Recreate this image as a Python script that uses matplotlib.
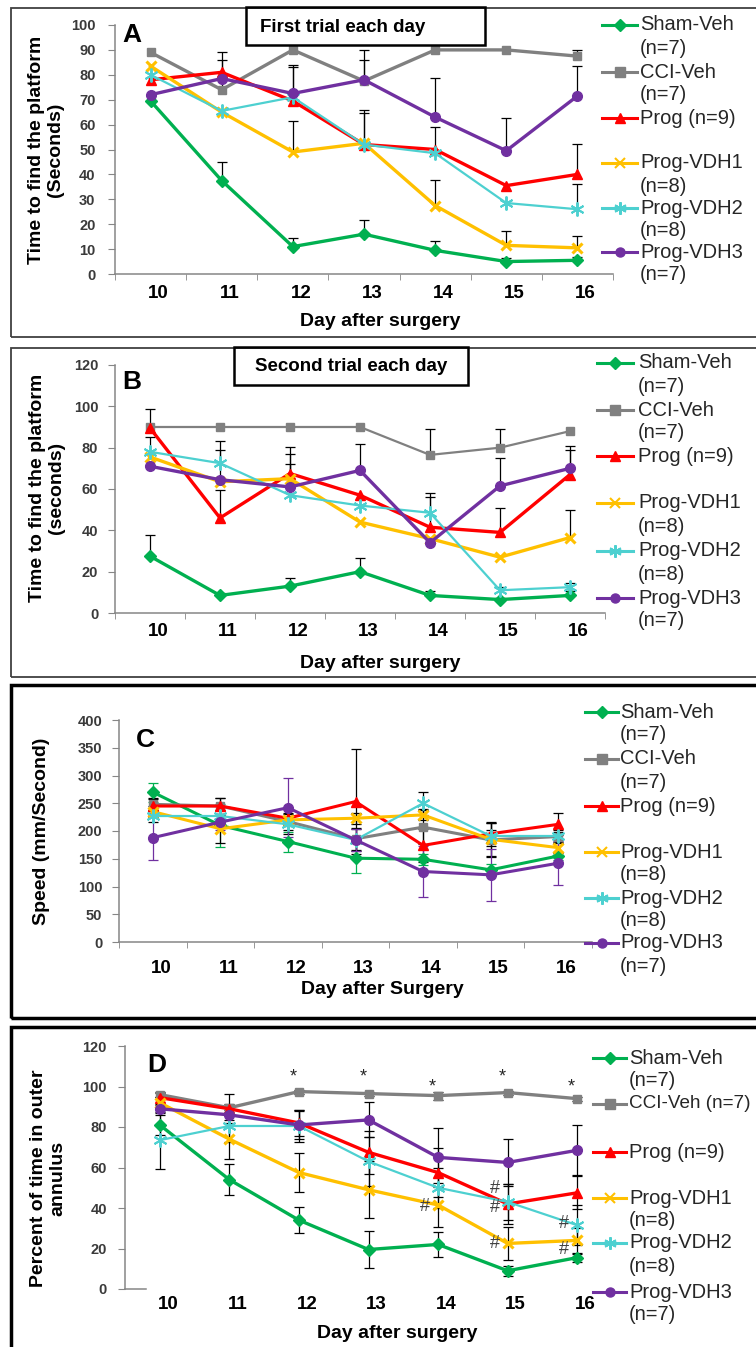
import numpy as np
import matplotlib
matplotlib.use('Agg')
import matplotlib.pyplot as plt
import matplotlib.transforms as mtransforms
from matplotlib.patches import Rectangle
from matplotlib.lines import Line2D

plt.rcParams['font.family'] = ['Liberation Sans', 'DejaVu Sans']

W, H = 756, 1347

days = [10, 11, 12, 13, 14, 15, 16]
groups = ['Sham-Veh', 'CCI-Veh', 'Prog', 'Prog-VDH1', 'Prog-VDH2', 'Prog-VDH3']
colors = ['#00B050', '#808080', '#FF0000', '#FFC000', '#4DD0D0', '#7030A0']
markers = ['D', 's', '^', 'x', (6, 2, 0), 'o']

legend_abc = [['Sham-Veh', '(n=7)'], ['CCI-Veh', '(n=7)'], ['Prog (n=9)'],
              ['Prog-VDH1', '(n=8)'], ['Prog-VDH2', '(n=8)'], ['Prog-VDH3', '(n=7)']]
legend_d = [['Sham-Veh', '(n=7)'], ['CCI-Veh (n=7)'], ['Prog (n=9)'],
            ['Prog-VDH1', '(n=8)'], ['Prog-VDH2', '(n=8)'], ['Prog-VDH3', '(n=7)']]

# rows follow the order of groups
trial1_mean = [[69.5, 37.5, 11, 16, 9.5, 5, 5.5],
               [89, 74, 90, 77.5, 90, 90, 87.5],
               [78, 81, 69.5, 52, 50, 35.5, 40],
               [83.5, 65, 49, 52.5, 27.5, 11.5, 10.5],
               [80, 65.5, 71, 52, 48.5, 28.5, 26],
               [72, 78.5, 72.5, 78, 63, 49.5, 71.5]]
trial1_err = [[0, 7.3, 3.3, 5.5, 3.9, 1.5, 1.5],
              [0, 15, 0, 12.5, 0, 0, 2.5],
              [0, 0, 13.8, 14, 9.2, 0, 12.4],
              [0, 0, 12.3, 0, 10.3, 5.8, 4.6],
              [0, 0, 0, 12.7, 0, 0, 10.3],
              [0, 7.6, 11.6, 7.8, 15.6, 13, 12.2]]

trial2_mean = [[27.5, 8.5, 13, 20, 8.5, 6.5, 8.5],
               [90, 90, 90, 90, 76.5, 80, 88],
               [89.5, 46, 67.5, 57, 41.5, 39, 67],
               [75.5, 63.5, 65, 44, 36, 27, 36.5],
               [78, 72.5, 57, 52, 48.5, 11, 12.5],
               [71, 64.5, 61, 69, 34, 61.5, 70]]
trial2_err = [[10.4, 1, 4, 6.6, 2, 1, 2],
              [0, 0, 0, 0, 12.4, 8.9, 0],
              [9.2, 13.6, 12.8, 0, 14.8, 11.6, 12.1],
              [0, 0, 7.3, 0, 0, 0, 13.3],
              [7, 10.5, 0, 0, 9.4, 1.5, 2],
              [0, 14.5, 16, 13, 0, 13.5, 11]]

speed_mean = [[270, 210, 181, 151, 149, 130, 155],
              [248, 245, 217, 186, 207, 184, 190],
              [245, 245, 223, 253, 174, 195, 212],
              [235, 204, 220, 223, 229, 185, 170],
              [227, 227, 212, 184, 250, 191, 191],
              [188, 216, 242, 184, 127, 121, 142]]
speed_err = [[17, 38, 18, 27, 10, 10, 8],
             [12, 14, 22, 20, 30, 30, 12],
             [12, 15, 10, 94, 30, 22, 20],
             [10, 25, 10, 10, 10, 30, 10],
             [10, 10, 10, 20, 21, 10, 8],
             [41, 15, 53, 20, 46, 47, 40]]

annulus_mean = [[81, 54, 34, 19.5, 22, 9, 15.5],
                [96, 89.5, 97.5, 96.5, 95.5, 97, 94],
                [94.5, 89, 82, 67.5, 57.5, 42, 47.5],
                [92, 74, 57.5, 49, 41.5, 22.5, 24],
                [73.5, 80.5, 80.5, 63, 50, 43, 31.5],
                [89, 86, 81, 83.5, 65, 62.5, 68.5]]
annulus_err = [[5, 7.5, 6.5, 9, 6, 2.5, 2],
               [1, 2, 1, 1, 2, 1, 1],
               [3, 7.5, 6.5, 10.5, 12, 10, 8.2],
               [3, 9.6, 9.6, 14, 11, 8, 6],
               [14, 8, 8, 12, 10, 9, 10],
               [2, 4, 7, 8.6, 14.4, 11.8, 12.3]]

star_days = [12, 13, 14, 15, 16]
star_vals = [104.7, 104.7, 99.8, 104.7, 99.8]
hash_days = [14, 15, 15, 15, 16, 16]
hash_vals = [40.5, 49.7, 40, 22.7, 32.5, 19.4]

fig = plt.figure(figsize=(W / 100, H / 100), dpi=100)


def px_axes(l, t, r, b):
    return fig.add_axes([l / W, 1 - b / H, (r - l) / W, (b - t) / H])


def ftext(x, y, s, **kw):
    return fig.text(x / W, 1 - y / H, s, **kw)


def frame(l, t, r, b, lw, color):
    fig.add_artist(Rectangle((l / W, 1 - b / H), (r - l) / W, (b - t) / H,
                             transform=fig.transFigure, fill=False, lw=lw, ec=color))


def draw_panel(ax, means, errs, ymax, ystep, one_sided, ecolors, lws, xpad, ypad):
    x = np.arange(len(days))
    sizes = [6.5, 6, 7.5, 7.5, 10, 7]
    mews = [1, 1, 1, 2.2, 1.4, 1]
    for i in range(len(groups)):
        m = np.array(means[i], dtype=float)
        e = np.array(errs[i], dtype=float)
        keep = e > 0
        lower = np.zeros_like(e) if one_sided else e
        eb = ax.errorbar(x[keep], m[keep], yerr=[lower[keep], e[keep]], fmt='none',
                         ecolor=ecolors[i], elinewidth=0.9, capsize=3.5, capthick=0.9, zorder=2)
        if one_sided and len(eb[1]) > 1:
            eb[1][0].set_visible(False)
        ax.plot(x, m, color=colors[i], lw=lws[i], marker=markers[i], ms=sizes[i],
                mew=mews[i], mec=colors[i], mfc=colors[i], zorder=3)
    ax.set_xlim(-0.5, 6.5)
    ax.set_ylim(0, ymax)
    ax.set_yticks(np.arange(0, ymax + 1, ystep))
    ax.set_xticks(x)
    ax.set_xticklabels([str(d) for d in days], fontsize=13.5, fontweight='bold')
    ax.set_xticks(np.arange(-0.5, 7, 1), minor=True)
    ax.tick_params(axis='x', which='major', length=0, pad=xpad)
    ax.tick_params(axis='x', which='minor', length=4, color='#868686', direction='out')
    ax.tick_params(axis='y', length=5, color='#868686', pad=ypad, labelsize=10.5,
                   labelcolor='#3a3a3a')
    for lbl in ax.get_yticklabels():
        lbl.set_fontweight('bold')
    shift = mtransforms.ScaledTranslation(0.08, 0, fig.dpi_scale_trans)
    for lbl in ax.get_xticklabels():
        lbl.set_transform(lbl.get_transform() + shift)
    for side in ['top', 'right']:
        ax.spines[side].set_visible(False)
    for side in ['left', 'bottom']:
        ax.spines[side].set_color('#868686')
        ax.spines[side].set_linewidth(1.1)
    ax.patch.set_alpha(0)


def draw_legend(rows_y, x0, x1, xt, labels):
    for i, y in enumerate(rows_y):
        yy = 1 - y / H
        fig.add_artist(Line2D([x0 / W, x1 / W], [yy, yy], color=colors[i], lw=2.2,
                              transform=fig.transFigure))
        fig.add_artist(Line2D([(x0 + x1) / 2 / W], [yy], color=colors[i], lw=0,
                              marker=markers[i], ms=9 if i == 4 else 6.5,
                              mew=1.5 if i in (3, 4) else 1,
                              transform=fig.transFigure))
        for k, line in enumerate(labels[i]):
            size = 14.5 if len(line) < 12 else 13.6
            ftext(xt, y + k * 23, line, fontsize=size, va='center', ha='left', color='#262626')


black6 = ['black'] * 6
thick = [2.4, 2.4, 2.4, 2.4, 1.6, 2.4]

# panel frames
frame(11, 8, 790, 337, 1.3, '#404040')
frame(11, 348, 790, 677, 1.3, '#404040')
frame(11, 685, 790, 1018, 2.5, 'black')
frame(11, 1027, 790, 1370, 2.5, 'black')

# A
axA = px_axes(115, 25, 613, 274)
draw_panel(axA, trial1_mean, trial1_err, 100, 10, True, black6, thick, 8, 9)
frame(246, 7, 485, 45, 1.8, 'black')
ftext(260, 27, 'First trial each day', fontsize=13.5, fontweight='bold', va='center')
ftext(132, 35, 'A', fontsize=19, fontweight='bold', ha='center', va='center')
ftext(46, 150, 'Time to find the platform\n(Seconds)', rotation=90, fontsize=14,
      fontweight='bold', ha='center', va='center', linespacing=1.2)
ftext(380, 322, 'Day after surgery', fontsize=14, fontweight='bold', ha='center', va='center')
draw_legend([25, 72, 118, 163, 208, 252], 602, 637, 640, legend_abc)

# B
axB = px_axes(115, 365, 605, 613)
draw_panel(axB, trial2_mean, trial2_err, 120, 20, True, black6,
           [2.4, 1.6, 2.4, 2.4, 1.6, 2.4], 7, 7)
frame(234, 347, 468, 385, 1.8, 'black')
ftext(351, 366, 'Second trial each day', fontsize=13.5, fontweight='bold',
      ha='center', va='center')
ftext(132, 382, 'B', fontsize=19, fontweight='bold', ha='center', va='center')
ftext(47, 488, 'Time to find the platform\n(seconds)', rotation=90, fontsize=14,
      fontweight='bold', ha='center', va='center', linespacing=1.2)
ftext(380, 663, 'Day after surgery', fontsize=14, fontweight='bold', ha='center', va='center')
draw_legend([363, 410, 456, 503, 551, 598], 597, 633, 638, legend_abc)

# C
axC = px_axes(119, 720, 592, 942)
draw_panel(axC, speed_mean, speed_err, 400, 50, False,
           [colors[0], 'black', 'black', 'black', 'black', colors[5]],
           [2.2, 2.2, 2.2, 2.2, 1.6, 2.2], 13, 7)
ftext(145, 740, 'C', fontsize=19, fontweight='bold', ha='center', va='center')
ftext(42, 831, 'Speed (mm/Second)', rotation=90, fontsize=14,
      fontweight='bold', ha='center', va='center')
ftext(382, 990, 'Day after Surgery', fontsize=14, fontweight='bold', ha='center', va='center')
draw_legend([712, 759, 806, 852, 898, 943], 585, 618, 620, legend_abc)

# D
axD = px_axes(125, 1046, 612, 1289)
draw_panel(axD, annulus_mean, annulus_err, 120, 20, False, black6, thick, 5, 8)
axD.spines['bottom'].set_bounds(-0.5, -0.2)
axD.tick_params(axis='x', which='minor', length=0)
for d, v in zip(star_days, star_vals):
    axD.text(days.index(d) - 0.08, v, '*', fontsize=13, ha='center', va='center', color='#262626')
for d, v in zip(hash_days, hash_vals):
    axD.text(days.index(d) - 0.19, v, '#', fontsize=13, ha='center', va='center', color='#404040')
ftext(157, 1065, 'D', fontsize=19, fontweight='bold', ha='center', va='center')
ftext(48, 1178, 'Percent of time in outer\nannulus', rotation=90, fontsize=14,
      fontweight='bold', ha='center', va='center', linespacing=1.2)
ftext(397, 1333, 'Day after surgery', fontsize=14, fontweight='bold', ha='center', va='center')
draw_legend([1058, 1104, 1152, 1198, 1243, 1292], 593, 626, 629, legend_d)

fig.savefig('out.png', dpi=100)
